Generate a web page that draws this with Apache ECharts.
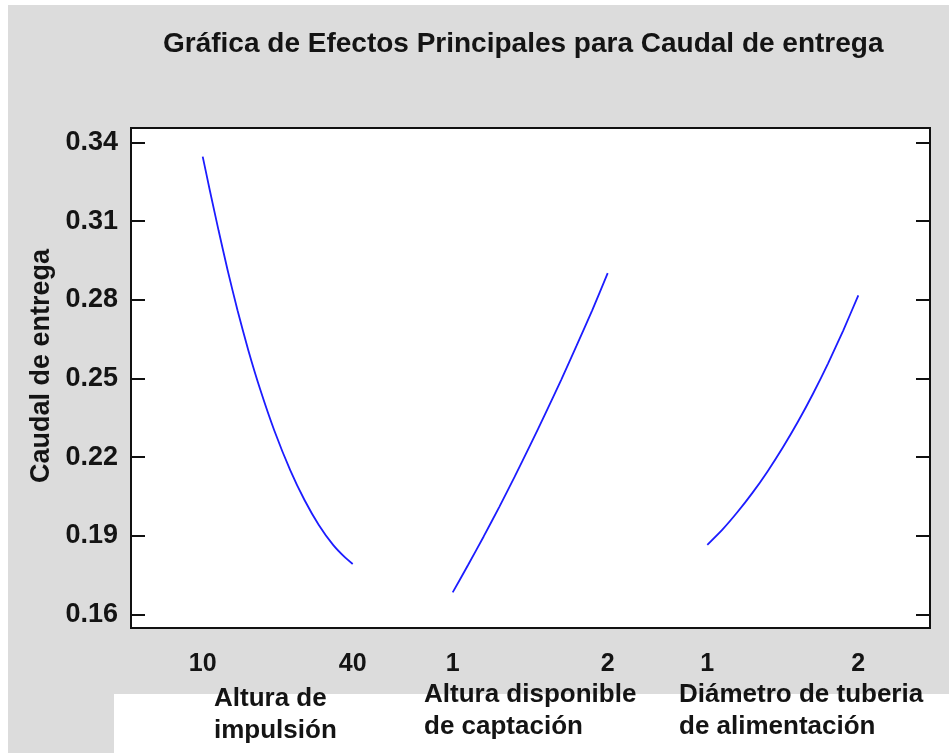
<!DOCTYPE html>
<html>
<head>
<meta charset="utf-8">
<script src="https://cdn.jsdelivr.net/npm/echarts@6/dist/echarts.min.js"></script>
<style>
  html, body { margin: 0; padding: 0; background: #fff; }
  #chart { width: 949px; height: 753px; }
</style>
</head>
<body>
<div id="chart"></div>
<script>
// Main effects of each factor on the delivered flow (Caudal de entrega)
const chartTitle = 'Gráfica de Efectos Principales para Caudal de entrega';
const yAxisTitle = 'Caudal de entrega';
const yTicks = [0.16, 0.19, 0.22, 0.25, 0.28, 0.31, 0.34];

// Factor 1: Altura de impulsión (10 .. 40)
const impulsionName = 'Altura de\nimpulsión';
const impulsionTicks = [10, 40];
const impulsionX = [10, 11.44, 13.18, 15.0, 16.96, 19.12, 21.54, 24.3, 27.5, 30.36, 33.22, 36.08, 38.36, 40];
const impulsionY = [0.3346, 0.3216, 0.3064, 0.2912, 0.2760, 0.2608, 0.2456, 0.2303, 0.2151, 0.2037, 0.1942, 0.1866, 0.1820, 0.1793];

// Factor 2: Altura disponible de captación (1 .. 2)
const captacionName = 'Altura disponible\nde captación';
const captacionTicks = [1, 2];
const captacionX = [1.0, 1.1, 1.2, 1.3, 1.4, 1.5, 1.6, 1.7, 1.8, 1.9, 2.0];
const captacionY = [0.1685, 0.1790, 0.1898, 0.2010, 0.2126, 0.2246, 0.2369, 0.2495, 0.2626, 0.2760, 0.2902];

// Factor 3: Diámetro de tuberia de alimentación (1 .. 2)
const diametroName = 'Diámetro de tuberia\nde alimentación';
const diametroTicks = [1, 2];
const diametroX = [1.0, 1.1, 1.2, 1.3, 1.4, 1.5, 1.6, 1.7, 1.8, 1.9, 2.0];
const diametroY = [0.1866, 0.1924, 0.1991, 0.2065, 0.2147, 0.2237, 0.2335, 0.2442, 0.2558, 0.2683, 0.2817];

const pairs = (xs, ys) => xs.map((x, i) => [x, ys[i]]);

const FONT = '"Liberation Sans", Arial, sans-serif';
const TEXT = '#141414';
const LINE = '#1c1cff';

// Each factor gets its own x scale sharing the one plot frame
function factorAxis(ticks, min, max) {
  return {
    type: 'value',
    position: 'bottom',
    min: min,
    max: max,
    axisLine: { show: false, onZero: false },
    axisTick: { show: false },
    splitLine: { show: false },
    axisLabel: {
      customValues: ticks,
      margin: 24,
      color: TEXT,
      fontFamily: FONT,
      fontWeight: 'bold',
      fontSize: 25
    }
  };
}

function yScale(showLabels, position) {
  return {
    type: 'value',
    position: position,
    min: 0.1549,
    max: 0.3455,
    axisLine: { show: false, onZero: false },
    splitLine: { show: false },
    axisTick: { show: true, inside: true, length: 14, customValues: yTicks, lineStyle: { color: '#111', width: 2 } },
    axisLabel: {
      show: showLabels,
      customValues: yTicks,
      margin: 13,
      color: TEXT,
      fontFamily: FONT,
      fontWeight: 'bold',
      fontSize: 27,
      formatter: v => v.toFixed(2)
    }
  };
}

const chart = echarts.init(document.getElementById('chart'), null, { renderer: 'canvas' });

const nameStyle = { color: TEXT, fontFamily: FONT, fontWeight: 'bold', fontSize: 26, lineHeight: 32 };

chart.setOption({
  backgroundColor: '#fff',
  animation: false,
  graphic: [
    { type: 'rect', z: -10, silent: true, shape: { x: 8, y: 5, width: 941, height: 748 }, style: { fill: '#dcdcdc' } },
    { type: 'rect', z: -9, silent: true, shape: { x: 114, y: 694, width: 835, height: 59 }, style: { fill: '#ffffff' } }
  ],
  title: [
    { text: chartTitle, left: 163, top: 30, padding: 0,
      textStyle: { color: TEXT, fontFamily: FONT, fontWeight: 'bold', fontSize: 28 } },
    { text: impulsionName, left: 214, top: 683, padding: 0, textStyle: nameStyle },
    { text: captacionName, left: 424, top: 679, padding: 0, textStyle: nameStyle },
    { text: diametroName, left: 679, top: 679, padding: 0, textStyle: nameStyle }
  ],
  grid: {
    left: 131, right: 19, top: 128, bottom: 125,
    show: true, backgroundColor: '#fff', borderColor: '#111', borderWidth: 2
  },
  xAxis: [
    factorAxis(impulsionTicks, -4.34, 155.46),
    factorAxis(captacionTicks, -1.0755, 4.0794),
    factorAxis(diametroTicks, -2.8166, 2.4748)
  ],
  yAxis: [
    Object.assign(yScale(true, 'left'), {
      name: yAxisTitle,
      nameLocation: 'middle',
      nameGap: 73,
      nameTextStyle: { color: TEXT, fontFamily: FONT, fontWeight: 'bold', fontSize: 27, padding: [0, 0, 0, 24] }
    }),
    yScale(false, 'right')
  ],
  series: [
    { type: 'line', xAxisIndex: 0, yAxisIndex: 0, data: pairs(impulsionX, impulsionY), showSymbol: false,
      smooth: 0.2, lineStyle: { color: LINE, width: 1.8 } },
    { type: 'line', xAxisIndex: 1, yAxisIndex: 0, data: pairs(captacionX, captacionY), showSymbol: false,
      smooth: 0.2, lineStyle: { color: LINE, width: 1.8 } },
    { type: 'line', xAxisIndex: 2, yAxisIndex: 0, data: pairs(diametroX, diametroY), showSymbol: false,
      smooth: 0.2, lineStyle: { color: LINE, width: 1.8 } }
  ]
});
</script>
</body>
</html>
